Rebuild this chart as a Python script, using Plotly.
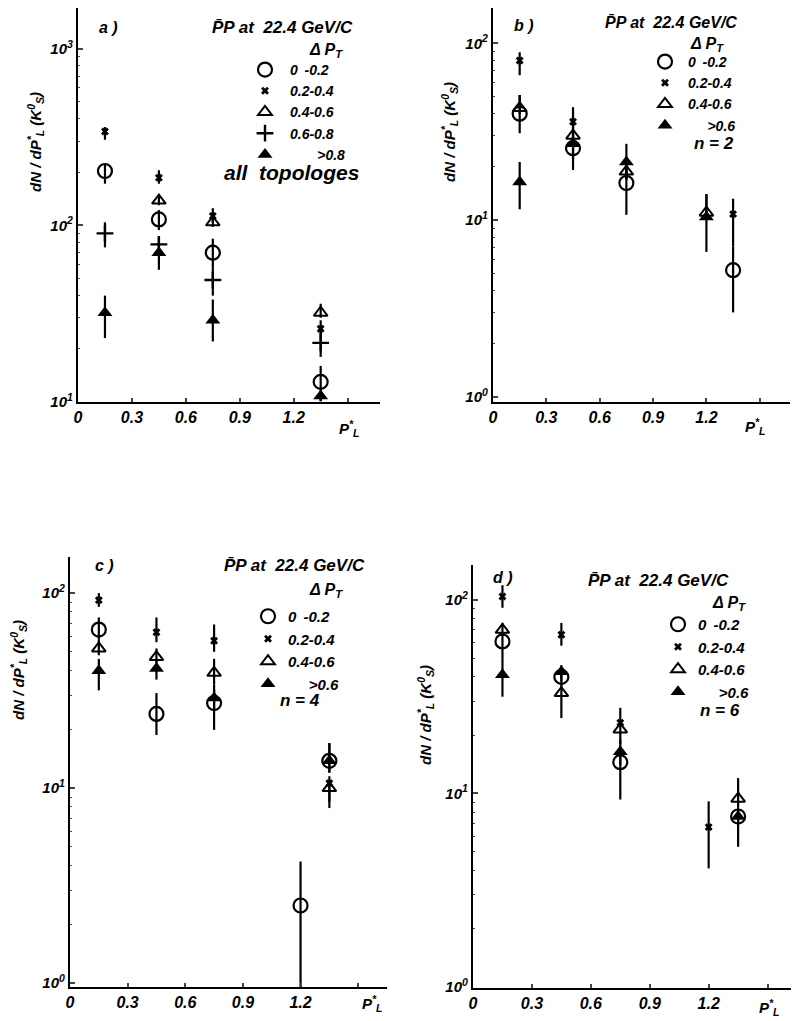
import math
import plotly.graph_objects as go

# ---------------- data ----------------
# Panel a) all topologies
a_c_x = [0.15, 0.45, 0.75, 1.35]; a_c_y = [203, 108, 70, 13]; a_c_lo = [172, 94, 58, 10.1]; a_c_hi = [220, 122, 84, 16]
a_x_x = [0.15, 0.45, 0.75, 1.35]; a_x_y = [340, 186, 113, 26]; a_x_lo = [305, 172, 104, 24]; a_x_hi = [360, 205, 125, 29]
a_t_x = [0.45, 0.75, 1.35]; a_t_y = [138, 104, 32]; a_t_lo = [130, 98, 30]; a_t_hi = [146, 110, 36]
a_p_x = [0.15, 0.45, 0.75, 1.35]; a_p_y = [90, 78, 49, 21.6]; a_p_lo = [75, 72, 40, 18]; a_p_hi = [104, 86, 58, 25]
a_f_x = [0.15, 0.45, 0.75, 1.35]; a_f_y = [32, 70, 29, 10.8]; a_f_lo = [23, 56, 22, 10.1]; a_f_hi = [40, 80, 38, 11.5]

# Panel b) n = 2
b_c_x = [0.15, 0.45, 0.75, 1.35]; b_c_y = [40, 25.5, 16.2, 5.2]; b_c_lo = [31, 19.2, 10.7, 3.0]; b_c_hi = [51, 30, 20, 7.1]
b_x_x = [0.15, 0.45, 1.35]; b_x_y = [80, 36, 10.8]; b_x_lo = [66, 30, 7.1]; b_x_hi = [89, 43.5, 13.2]
b_t_x = [0.15, 0.45, 0.75, 1.2]; b_t_y = [43, 30, 18.8, 11]; b_t_lo = [40, 27, 17, 10]; b_t_hi = [51, 36, 22, 14]
b_f_x = [0.15, 0.45, 0.75, 1.2]; b_f_y = [16.4, 27, 21.3, 10.4]; b_f_lo = [11.5, 22, 17, 6.6]; b_f_hi = [21.3, 32, 27, 14]

# Panel c) n = 4
c_c_x = [0.15, 0.45, 0.75, 1.2, 1.35]; c_c_y = [65, 24, 27.3, 2.5, 13.8]; c_c_lo = [58, 18.7, 19.9, 0.9, 12]; c_c_hi = [75, 30.7, 32, 4.2, 17]
c_x_x = [0.15, 0.45, 0.75, 1.35]; c_x_y = [92, 63, 57, 10.6]; c_x_lo = [85, 56, 50, 7.9]; c_x_hi = [100, 75, 69, 11.5]
c_t_x = [0.15, 0.45, 0.75, 1.35]; c_t_y = [52, 47, 39, 10]; c_t_lo = [48, 44, 34, 8.5]; c_t_hi = [58, 52, 46, 11]
c_f_x = [0.15, 0.45, 0.75, 1.35]; c_f_y = [40, 41, 29, 13.8]; c_f_lo = [31.7, 36, 25, 12]; c_f_hi = [46, 45, 34, 17]

# Panel d) n = 6
d_c_x = [0.15, 0.45, 0.75, 1.35]; d_c_y = [61, 40, 14.5, 7.6]; d_c_lo = [50, 36, 9.3, 5.3]; d_c_hi = [68, 44, 16, 8.5]
d_x_x = [0.15, 0.45, 0.75, 1.2]; d_x_y = [104, 66, 23.2, 6.7]; d_x_lo = [91, 58, 22, 4.1]; d_x_hi = [119, 76, 27.7, 9.1]
d_t_x = [0.15, 0.45, 0.75, 1.35]; d_t_y = [70, 33, 21.4, 9.4]; d_t_lo = [65, 24.5, 18, 8.5]; d_t_hi = [76, 37, 23, 12]
d_f_x = [0.15, 0.45, 0.75, 1.35]; d_f_y = [41, 42.5, 16.4, 7.6]; d_f_lo = [31.6, 38, 14, 7]; d_f_hi = [50, 46, 19, 8.2]

labels_a = ["0 \u2009-0.2", "0.2-0.4", "0.4-0.6", "0.6-0.8", "\u00a0\u00a0\u00a0\u00a0\u00a0\u00a0\u00a0>0.8"]
labels_n = ["0 \u2009-0.2", "0.2-0.4", "0.4-0.6", "\u00a0\u00a0\u00a0\u00a0\u00a0>0.6"]
x_ticks = [0, 0.3, 0.6, 0.9, 1.2, 1.5]
x_ticktext = ["0", "0.3", "0.6", "0.9", "1.2", ""]

# ---------------- geometry helpers (page pixels -> paper) ----------------
OFF = 8                      # default page body margin
W, H = 799 - OFF, 1021 - OFF
def px(x): return (x - OFF) / W
def py(y): return 1 - (y - OFF) / H

ST = {
    "c": dict(symbol="circle-open", size=14, line=dict(width=2.2, color="black")),
    "x": dict(symbol="x", size=7, line=dict(width=0)),
    "t": dict(symbol="triangle-up-open", size=12, line=dict(width=2, color="black")),
    "p": dict(symbol="cross-thin-open", size=12, line=dict(width=2.4, color="black")),
    "f": dict(symbol="triangle-up", size=13, line=dict(width=0)),
}

fig = go.Figure()

def add(xs, ys, lo, hi, kind, name, ax, leg):
    fig.add_trace(go.Scatter(
        x=xs, y=ys, mode="markers", name=name, legend=leg,
        xaxis="x" + ax, yaxis="y" + ax,
        marker=dict(color="black", **ST[kind]),
        error_y=dict(type="data", symmetric=False,
                     array=[h - v for h, v in zip(hi, ys)],
                     arrayminus=[v - l for l, v in zip(lo, ys)],
                     color="black", thickness=2.2, width=0),
    ))

add(a_c_x, a_c_y, a_c_lo, a_c_hi, "c", labels_a[0], "", "legend")
add(a_x_x, a_x_y, a_x_lo, a_x_hi, "x", labels_a[1], "", "legend")
add(a_t_x, a_t_y, a_t_lo, a_t_hi, "t", labels_a[2], "", "legend")
add(a_p_x, a_p_y, a_p_lo, a_p_hi, "p", labels_a[3], "", "legend")
add(a_f_x, a_f_y, a_f_lo, a_f_hi, "f", labels_a[4], "", "legend")

add(b_c_x, b_c_y, b_c_lo, b_c_hi, "c", labels_n[0], "2", "legend2")
add(b_x_x, b_x_y, b_x_lo, b_x_hi, "x", labels_n[1], "2", "legend2")
add(b_t_x, b_t_y, b_t_lo, b_t_hi, "t", labels_n[2], "2", "legend2")
add(b_f_x, b_f_y, b_f_lo, b_f_hi, "f", labels_n[3], "2", "legend2")

add(c_c_x, c_c_y, c_c_lo, c_c_hi, "c", labels_n[0], "3", "legend3")
add(c_x_x, c_x_y, c_x_lo, c_x_hi, "x", labels_n[1], "3", "legend3")
add(c_t_x, c_t_y, c_t_lo, c_t_hi, "t", labels_n[2], "3", "legend3")
add(c_f_x, c_f_y, c_f_lo, c_f_hi, "f", labels_n[3], "3", "legend3")

add(d_c_x, d_c_y, d_c_lo, d_c_hi, "c", labels_n[0], "4", "legend4")
add(d_x_x, d_x_y, d_x_lo, d_x_hi, "x", labels_n[1], "4", "legend4")
add(d_t_x, d_t_y, d_t_lo, d_t_hi, "t", labels_n[2], "4", "legend4")
add(d_f_x, d_f_y, d_f_lo, d_f_hi, "f", labels_n[3], "4", "legend4")

FONT = dict(family="Liberation Sans", size=15, color="black", weight="bold", style="italic")

def xaxis(dom, rng, anchor):
    return dict(domain=dom, range=rng, anchor=anchor, showline=True, linewidth=2.2, linecolor="black",
                showgrid=False, zeroline=False, ticks="inside", ticklen=4, tickwidth=1.5,
                tickvals=x_ticks, ticktext=x_ticktext, tickfont=dict(FONT, size=16), automargin=False)

minor_vals = [m * 10 ** e for e in (-1, 0, 1, 2, 3) for m in range(2, 10)]
def yaxis(dom, rng, anchor, tv):
    return dict(domain=dom, range=rng, anchor=anchor, type="log", showline=True, linewidth=2.2,
                linecolor="black", showgrid=False, zeroline=False, ticks="inside", ticklen=5,
                tickwidth=1.5, tickvals=tv, automargin=False,
                ticktext=["10<sup>%d</sup>" % round(math.log10(v)) for v in tv],
                tickfont=dict(FONT, size=15),
                minor=dict(tickvals=minor_vals, ticks="inside", ticklen=2, tickwidth=1, showgrid=False))

layout = dict(
    width=W, height=H, margin=dict(l=0, r=0, t=0, b=0),
    paper_bgcolor="white", plot_bgcolor="white", font=FONT, showlegend=True,
    xaxis=xaxis([px(78), px(380)], [0, 1.68], "y"),
    yaxis=yaxis([py(402), py(8)], [1.0, 3.23], "x", [10, 100, 1000]),
    xaxis2=xaxis([px(493), px(790)], [0, 1.67], "y2"),
    yaxis2=yaxis([py(402), py(8)], [-0.03, 2.2], "x2", [1, 10, 100]),
    xaxis3=xaxis([px(70), px(387)], [0, 1.65], "y3"),
    yaxis3=yaxis([py(987), py(557)], [-0.02, 2.185], "x3", [1, 10, 100]),
    xaxis4=xaxis([px(473), px(799)], [0, 1.66], "y4"),
    yaxis4=yaxis([py(988), py(565)], [-0.005, 2.18], "x4", [1, 10, 100]),
)

def legend(x, y, size, iw):
    return dict(x=px(x), y=py(y), xanchor="left", yanchor="top", bgcolor="rgba(0,0,0,0)",
                borderwidth=0, font=dict(FONT, size=size), itemwidth=iw, tracegroupgap=0)

layout["legend"] = legend(240, 54, 14, 40)
layout["legend2"] = legend(642, 46, 14, 36)
layout["legend3"] = legend(248, 600, 15, 30)
layout["legend4"] = legend(658, 608, 15, 30)

fig.update_layout(**layout)

ann = []
def text(x, y, s, size=16, anchor="left", angle=0):
    ann.append(dict(x=px(x), y=py(y), xref="paper", yref="paper", text=s, showarrow=False,
                    xanchor=anchor, yanchor="middle", textangle=angle, font=dict(FONT, size=size)))

header = "P\u0304P at  22.4 GeV/C"
ytitle = "dN / dP<sup>*</sup><sub>L</sub> (K<sup>0</sup><sub>S</sub>)"
xtitle = "P<sup>*</sup><sub>L</sub>"

# panel a
text(97, 27, "a )", 16)
text(210, 27, header, 17)
text(307, 50, "\u0394 P<sub>T</sub>", 16)
text(222, 173, "all  topologes", 21)
text(35, 142, ytitle, 15, "center", -90)
text(337, 428, xtitle, 15)
# panel b
text(512, 25, "b )", 16)
text(603, 22, header, 16)
text(688, 45, "\u0394 P<sub>T</sub>", 16)
text(692, 143, "n = 2", 17)
text(450, 132, ytitle, 15, "center", -90)
text(743, 426, xtitle, 15)
# panel c
text(93, 565, "c )", 16)
text(222, 565, header, 17)
text(307, 590, "\u0394 P<sub>T</sub>", 16)
text(278, 700, "n = 4", 17)
text(18, 670, ytitle, 15, "center", -90)
text(360, 1003, xtitle, 15)
# panel d
text(491, 577, "d )", 16)
text(586, 580, header, 17)
text(710, 603, "\u0394 P<sub>T</sub>", 16)
text(698, 710, "n = 6", 17)
text(425, 715, ytitle, 15, "center", -90)
text(757, 1007, xtitle, 15)

fig.update_layout(annotations=ann)
fig.write_html("out.html")
